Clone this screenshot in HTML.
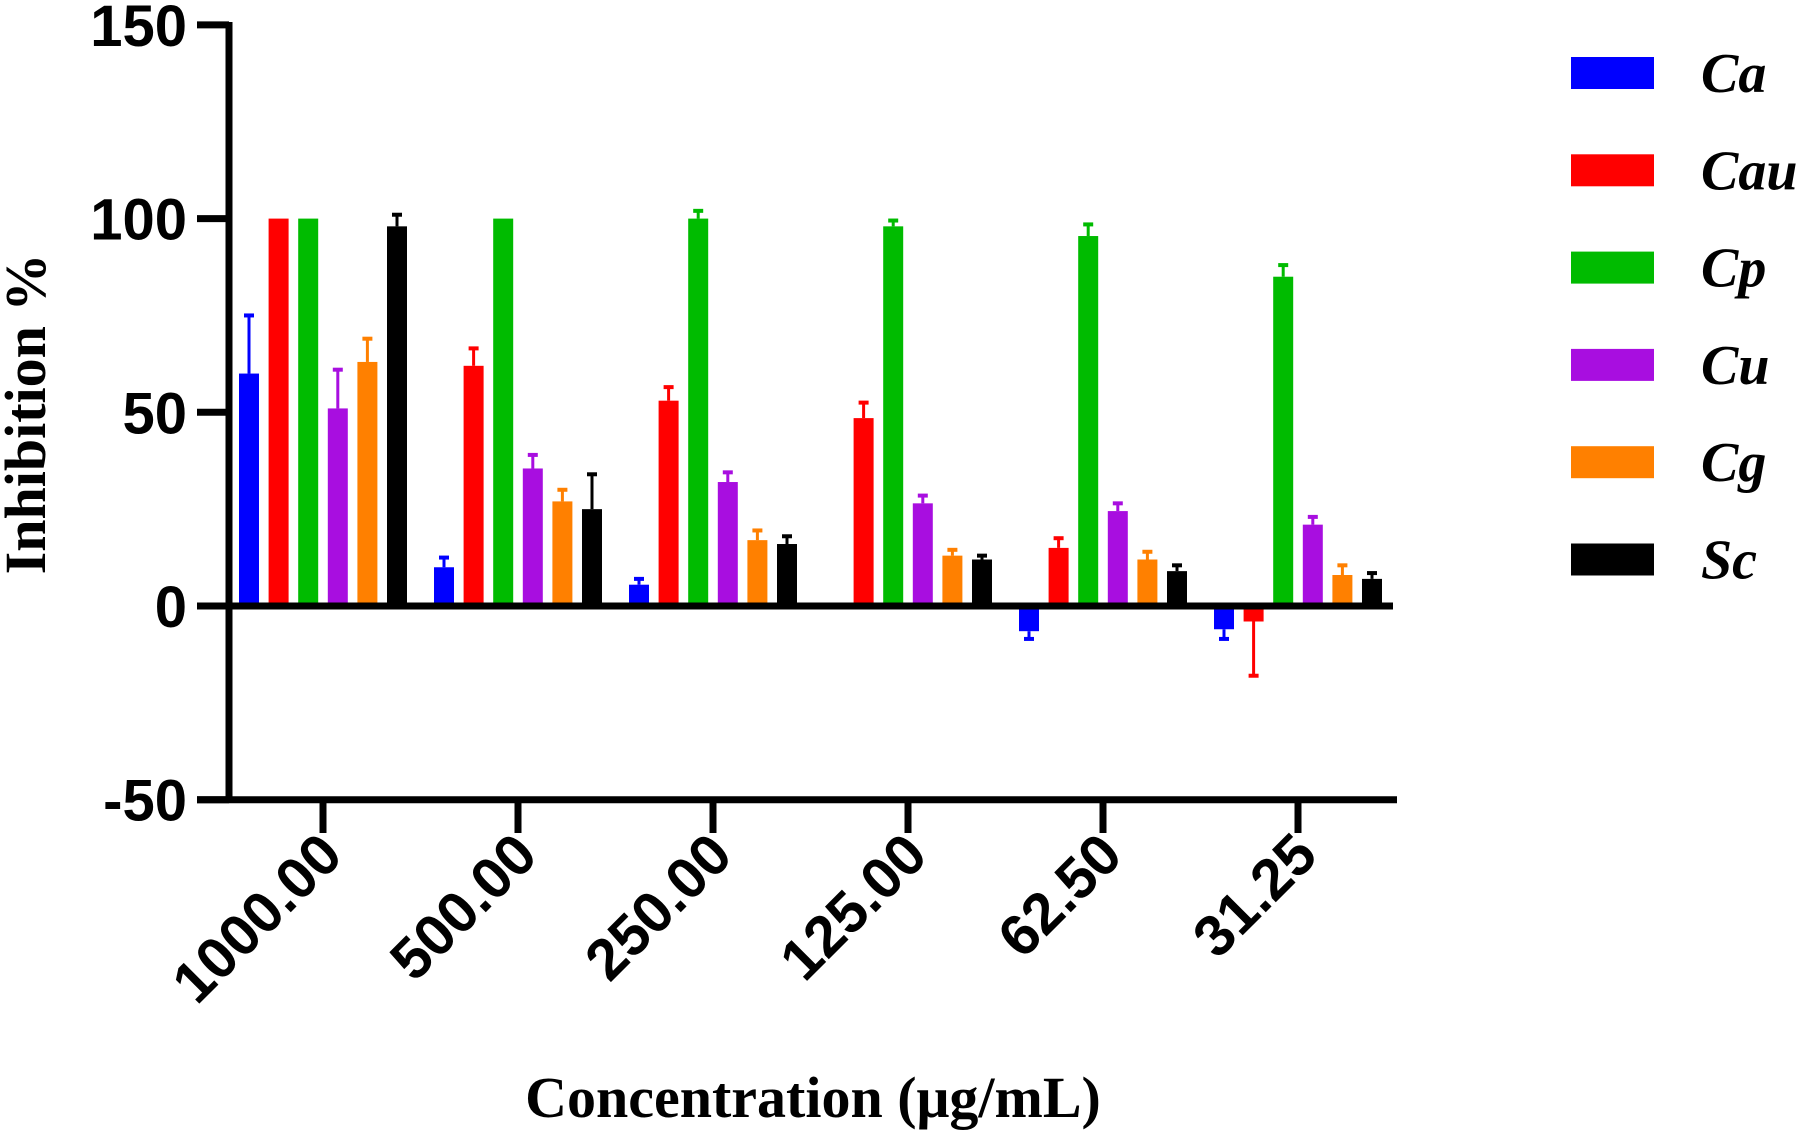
<!DOCTYPE html>
<html><head><meta charset="utf-8"><style>
html,body{margin:0;padding:0;background:#fff;}
svg{display:block;}
</style></head><body>
<svg id="chart" width="1805" height="1134" xmlns="http://www.w3.org/2000/svg">
<g id="bars"></g>
<g id="axes"></g>
<g id="legend"></g>
<text transform="translate(45,414) rotate(-90)" text-anchor="middle" font-family="Liberation Serif, serif" font-weight="bold" font-size="58">Inhibition %</text>
<text x="813" y="1117" text-anchor="middle" font-family="Liberation Serif, serif" font-weight="bold" font-size="58">Concentration (μg/mL)</text>
</svg>
<script>
const categories = ["1000.00","500.00","250.00","125.00","62.50","31.25"];
const seriesNames = ["Ca","Cau","Cp","Cu","Cg","Sc"];
const seriesColors = ["#0000ff","#ff0000","#00bb00","#a80ee0","#ff8000","#000000"];
const caValues = [60,10,5.5,0,-6.5,-6];
const cauValues = [100,62,53,48.5,15,-4];
const cpValues = [100,100,100,98,95.5,85];
const cuValues = [51,35.5,32,26.5,24.5,21];
const cgValues = [63,27,17,13,12,8];
const scValues = [98,25,16,12,9,7];
const caErr = [15,2.5,1.5,0,2,2.5];
const cauErr = [0,4.5,3.5,4,2.5,14];
const cpErr = [0,0,2,1.5,3,3];
const cuErr = [10,3.5,2.5,2,2,2];
const cgErr = [6,3,2.5,1.5,2,2.5];
const scErr = [3,9,2,1,1.5,1.5];
const yTicks = [150,100,50,0,-50];

const values = [caValues,cauValues,cpValues,cuValues,cgValues,scValues];
const errs = [caErr,cauErr,cpErr,cuErr,cgErr,scErr];
const NS = "http://www.w3.org/2000/svg";
const y0px = 606, perUnit = 193.7/50;
function yScale(v){ return y0px - v*perUnit; }
function xGroup(i){ return 323 + i*195; }
const barW = 20, pitch = 29.6;
function xBar(i,s){ return xGroup(i) + (s-2.5)*pitch - barW/2; }
function mk(tag, attrs, parent){ const e=document.createElementNS(NS,tag); for(const k in attrs) e.setAttribute(k,attrs[k]); parent.appendChild(e); return e; }

const bars = document.getElementById('bars');
values.forEach((vals,s)=>{
  vals.forEach((v,i)=>{
    const x = xBar(i,s);
    const top = Math.min(yScale(v), y0px), h = Math.abs(yScale(v)-y0px);
    const r = mk('rect',{x:x,y:top,width:barW,height:h,fill:seriesColors[s]},bars);
    
    
    const e = errs[s][i];
    if(e>0){
      const sign = v<0?-1:1;
      const yEnd = yScale(v + sign*e);
      const cx = x+barW/2;
      const g = mk('g',{stroke:seriesColors[s],'stroke-width':3},bars);
      
      
      mk('line',{x1:cx,x2:cx,y1:yScale(v),y2:yEnd},g);
      mk('line',{x1:cx-5,x2:cx+5,y1:yEnd,y2:yEnd,'stroke-width':4},g);
    }
  });
});

const axes = document.getElementById('axes');
const yl = mk('line',{x1:229,x2:229,y1:22,y2:803,stroke:'#000','stroke-width':7},axes);


const zl = mk('line',{x1:197,x2:1393,y1:y0px,y2:y0px,stroke:'#000','stroke-width':7},axes);


const xl = mk('line',{x1:197,x2:1397,y1:yScale(-50),y2:yScale(-50),stroke:'#000','stroke-width':7},axes);


yTicks.forEach(t=>{
  const y=yScale(t);
  const tk = mk('line',{x1:197,x2:229,y1:y,y2:y,stroke:'#000','stroke-width':7},axes);
  
  
  const tx = mk('text',{x:187,y:y+21,'text-anchor':'end','font-family':'Liberation Sans, sans-serif','font-weight':'bold','font-size':58},axes);
  tx.textContent = t;
  
  
});
categories.forEach((c,i)=>{
  const x=xGroup(i);
  const tk = mk('line',{x1:x,x2:x,y1:800,y2:833,stroke:'#000','stroke-width':7},axes);
  
  
  const tx = mk('text',{transform:'translate('+(x+22)+',858) rotate(-45)','text-anchor':'end','font-family':'Liberation Sans, sans-serif','font-weight':'bold','font-size':58},axes);
  tx.textContent = c;
  
  
});

const legend = document.getElementById('legend');
seriesNames.forEach((n,s)=>{
  const cy = 73 + s*97.3;
  const g = mk('g',{},legend);
  
  
  mk('rect',{x:1571,y:cy-16,width:83,height:32,fill:seriesColors[s]},g);
  const t = mk('text',{x:1701,y:cy+19,'font-family':'Liberation Serif, serif','font-weight':'bold','font-style':'italic','font-size':56},g);
  t.textContent = n;
});
</script>
</body></html>
